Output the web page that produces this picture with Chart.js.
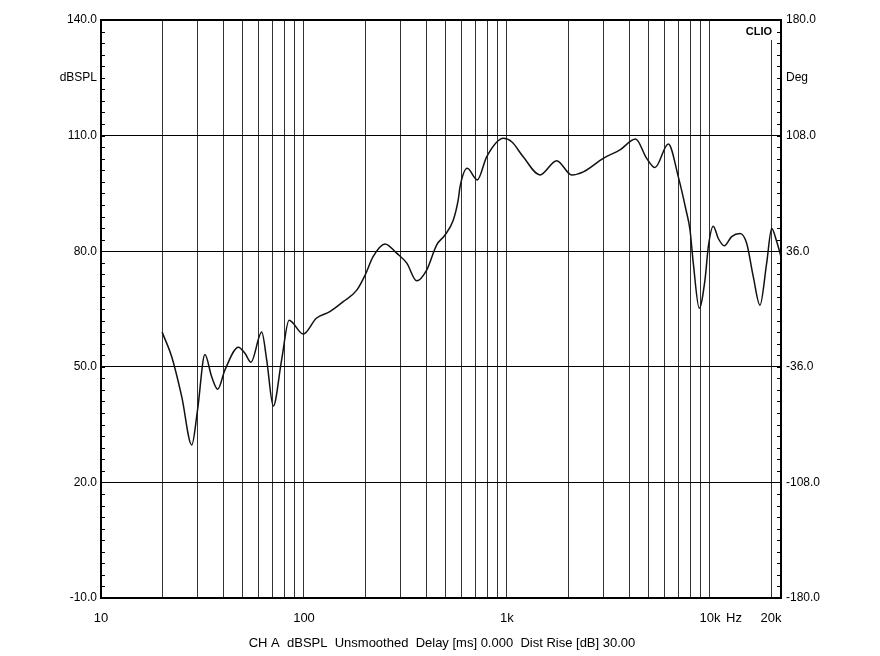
<!DOCTYPE html>
<html>
<head>
<meta charset="utf-8">
<script src="https://cdn.jsdelivr.net/npm/chart.js@4.4.0/dist/chart.umd.min.js"></script>
<style>
  html, body { margin: 0; padding: 0; background: #fff; }
  #wrap { width: 880px; height: 656px; }
</style>
</head>
<body>
<div id="wrap"><canvas id="chart" width="880" height="656"></canvas></div>
<script>
// frequency response
const freqs = [20, 22.3, 25, 28, 29.9, 32.5, 35.1, 37.6, 40.8, 47.5, 51.2, 54.8, 61.9, 65.5, 70.6, 77.6, 84.4,
  99.2, 115, 134, 156, 182, 200, 219, 251, 286, 321, 359, 402, 450, 495, 544, 575, 587, 637, 714, 794,
  959, 1055, 1202, 1454, 1757, 2083, 2377, 2981, 3603, 4300, 4876, 5358, 6234, 6982, 7620, 7973, 8275,
  8855, 9446, 9814, 10380, 10990, 11760, 12790, 14060, 15170, 16340, 17630, 19020, 20140, 21310, 22380]
const spl = [59.0, 52.6, 42.2, 29.7, 38.8, 53.2, 47.4, 44.2, 49.2, 55.1, 53.5, 51.2, 59.0, 51.8, 39.8, 51.8, 62.1,
  58.5, 62.6, 64.3, 66.9, 69.9, 73.8, 78.6, 81.9, 79.5, 76.9, 72.3, 75.1, 81.6, 84.2, 88.1, 93.3, 96.7, 101.5, 98.5, 104.5,
  109.3, 108.4, 104.5, 99.8, 103.5, 99.8, 100.6, 104.1, 106.3, 109.1, 104.1, 101.7, 107.8, 99.3, 90.7, 85.5, 76.9,
  65.2, 72.5, 81.2, 86.5, 83.3, 81.4, 83.8, 84.6, 82.0, 73.4, 66.0, 76.9, 85.9, 82.5, 78.6]

const gridFreqs = [20, 30, 40, 50, 60, 70, 80, 90, 100, 200, 300, 400, 500, 600, 700, 800, 900,
  1000, 2000, 3000, 4000, 5000, 6000, 7000, 8000, 9000, 10000, 20000]
const xTickValues = [10, 100, 1000, 10000, 20000]
const xTickLabels = ['10', '100', '1k', '10k', '20k']
const leftTickValues = [-10, 20, 50, 80, 110, 140]
const leftTickLabels = ['-10.0', '20.0', '50.0', '80.0', '110.0', '140.0']
const rightTickValues = [-180, -108, -36, 36, 108, 180]
const rightTickLabels = ['-180.0', '-108.0', '-36.0', '36.0', '108.0', '180.0']
const footer = 'CH A  dBSPL  Unsmoothed  Delay [ms] 0.000  Dist Rise [dB] 30.00'

const FONT = '12px "Liberation Sans", Arial, sans-serif'

const decorations = {
  id: 'clioDecor',
  afterDraw(chart) {
    const ctx = chart.ctx
    const a = chart.chartArea
    const x = chart.scales.x, y = chart.scales.y, y2 = chart.scales.y2
    ctx.save()
    // minor ticks inside the frame, every 3 dB
    ctx.strokeStyle = '#000'
    ctx.lineWidth = 1
    ctx.beginPath()
    for (let v = -10; v <= 140; v += 3) {
      const py = Math.round(y.getPixelForValue(v)) + 0.5
      ctx.moveTo(a.left, py); ctx.lineTo(a.left + 4, py)
      ctx.moveTo(a.right - 4, py); ctx.lineTo(a.right, py)
    }
    ctx.stroke()

    // CLIO badge
    ctx.fillStyle = '#fff'
    ctx.fillRect(a.right - 38, a.top + 1, 30, 19)
    ctx.fillStyle = '#000'
    ctx.font = 'bold 11px "Liberation Sans", Arial, sans-serif'
    ctx.textAlign = 'right'
    ctx.textBaseline = 'middle'
    ctx.fillText('CLIO', a.right - 9, a.top + 12)

    // frame
    ctx.lineWidth = 2
    ctx.strokeRect(a.left, a.top, a.right - a.left, a.bottom - a.top)

    ctx.font = FONT
    ctx.fillStyle = '#000'
    // left axis
    ctx.textAlign = 'right'
    leftTickValues.forEach((v, i) => ctx.fillText(leftTickLabels[i], a.left - 4, y.getPixelForValue(v)))
    ctx.fillText('dBSPL', a.left - 4, y.getPixelForValue(125))
    // right axis
    ctx.textAlign = 'left'
    rightTickValues.forEach((v, i) => ctx.fillText(rightTickLabels[i], a.right + 5, y2.getPixelForValue(v)))
    ctx.fillText('Deg', a.right + 5, y2.getPixelForValue(144))
    // bottom axis
    ctx.textAlign = 'center'
    ctx.font = '13px "Liberation Sans", Arial, sans-serif'
    xTickValues.forEach((v, i) => ctx.fillText(xTickLabels[i], x.getPixelForValue(v), a.bottom + 20))
    ctx.fillText('Hz', x.getPixelForValue(10000) + 24, a.bottom + 20)
    ctx.fillText(footer, 442, a.bottom + 45)
    ctx.restore()
  }
}

new Chart(document.getElementById('chart'), {
  type: 'line',
  data: {
    datasets: [{
      data: freqs.map((f, i) => ({ x: f, y: spl[i] })),
      borderColor: '#111',
      borderWidth: 1.5,
      pointRadius: 0,
      cubicInterpolationMode: 'monotone',
      fill: false
    }]
  },
  options: {
    responsive: false,
    animation: false,
    layout: { padding: { left: 101, right: 99, top: 20, bottom: 58 } },
    plugins: { legend: { display: false }, tooltip: { enabled: false } },
    scales: {
      x: {
        type: 'logarithmic',
        min: 10,
        max: 22380,
        afterBuildTicks: (s) => { s.ticks = gridFreqs.map(v => ({ value: v })) },
        ticks: { display: false },
        grid: { color: '#333', lineWidth: 1, drawTicks: false },
        border: { display: false }
      },
      y: {
        min: -10,
        max: 140,
        afterBuildTicks: (s) => { s.ticks = leftTickValues.map(v => ({ value: v })) },
        ticks: { display: false },
        grid: { color: '#000', lineWidth: 1, drawTicks: false },
        border: { display: false }
      },
      y2: {
        position: 'right',
        min: -180,
        max: 180,
        ticks: { display: false },
        grid: { display: false, drawTicks: false },
        border: { display: false }
      }
    }
  },
  plugins: [decorations]
})
</script>
</body>
</html>
